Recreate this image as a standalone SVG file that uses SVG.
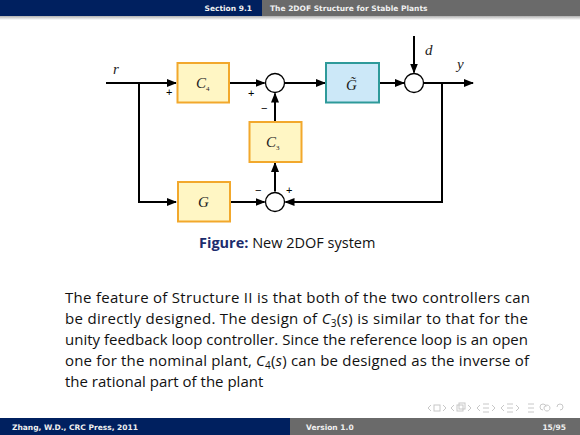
<svg xmlns="http://www.w3.org/2000/svg" width="580" height="435" viewBox="0 0 580 435">
<defs>
<marker id="ah" markerWidth="10" markerHeight="8" refX="9" refY="4" orient="auto" markerUnits="userSpaceOnUse">
<path d="M0,0 L10,4 L0,8 Z" fill="#000"/>
</marker>
<linearGradient id="sh" x1="0" y1="0" x2="0" y2="1">
<stop offset="0" stop-color="#b0b0b0"/>
<stop offset="1" stop-color="#ffffff"/>
</linearGradient>
</defs>
<style>
.bar{font-family:"DejaVu Sans","Liberation Sans",sans-serif;font-size:7.5px;font-weight:bold;fill:#f0f0f0}
.ybox{fill:#FFF6C4;stroke:#F2A82C;stroke-width:2}
.bbox{fill:#CCE8F8;stroke:#2E9A9A;stroke-width:2}
.sum{fill:#fff;stroke:#000;stroke-width:1.3}
.ln{fill:none;stroke:#000;stroke-width:2}
.math{font-family:"Liberation Serif",serif;font-style:italic;font-size:15px;fill:#222}
.sub{font-family:"Liberation Serif",serif;font-size:7px;fill:#222}
.sign{font-family:"Liberation Sans",sans-serif;font-size:11px;fill:#000}
.body{font-family:"Open Sans","DejaVu Sans",sans-serif;font-size:15px;fill:#111}
.cap{font-family:"Open Sans","DejaVu Sans",sans-serif;font-size:14.5px;fill:#111}
.nav{fill:none;stroke:#c8c8c8;stroke-width:1}
</style>
<rect width="580" height="435" fill="#fff"/>
<!-- header -->
<rect x="0" y="0" width="262" height="16" fill="#00205F"/>
<rect x="262" y="0" width="318" height="16" fill="#6A6A6A"/>
<rect x="0" y="16" width="580" height="4" fill="url(#sh)"/>
<text class="bar" x="252" y="11" text-anchor="end" fill="#d8e0f0">Section 9.1</text>
<text class="bar" x="270" y="11">The 2DOF Structure for Stable Plants</text>

<!-- connectors -->
<g id="connectors">
<path class="ln" d="M106,83 H176" marker-end="url(#ah)"/>
<path class="ln" d="M139,83 V202 H176" marker-end="url(#ah)"/>
<path class="ln" d="M229,83 H264.5" marker-end="url(#ah)"/>
<path class="ln" d="M284.5,83 H325" marker-end="url(#ah)"/>
<path class="ln" d="M379,83 H404" marker-end="url(#ah)"/>
<path class="ln" d="M414,36 V72.5" marker-end="url(#ah)"/>
<path class="ln" d="M424,83 H473" marker-end="url(#ah)"/>
<path class="ln" d="M442,83 V202 H285.5" marker-end="url(#ah)"/>
<path class="ln" d="M230,202 H264.5" marker-end="url(#ah)"/>
<path class="ln" d="M275,191.5 V163" marker-end="url(#ah)"/>
<path class="ln" d="M275,122 V93.5" marker-end="url(#ah)"/>
</g>

<g id="C4"><rect class="ybox" x="177.5" y="63" width="51.5" height="39.5"/>
<text class="math" x="196" y="88">C<tspan class="sub" font-style="normal" dy="3">4</tspan></text></g>
<g id="Gt"><rect class="bbox" x="326" y="63" width="53" height="39.5"/>
<text class="math" x="346" y="90">G&#x303;</text></g>
<g id="C3"><rect class="ybox" x="249.5" y="122" width="52" height="40"/>
<text class="math" x="266" y="147">C<tspan class="sub" font-style="normal" dy="3">3</tspan></text></g>
<g id="G"><rect class="ybox" x="178" y="182" width="52" height="39.5"/>
<text class="math" x="198" y="207">G</text></g>
<g id="sum1"><circle class="sum" cx="275" cy="83" r="9.5"/></g>
<g id="sum2"><circle class="sum" cx="414" cy="83" r="9.5"/></g>
<g id="sum3"><circle class="sum" cx="275" cy="202" r="9.5"/></g>

<g id="labels">
<text class="math" x="113" y="74" font-size="13">r</text>
<text class="math" x="425" y="55" font-size="13">d</text>
<text class="math" x="457" y="69" font-size="13">y</text>
<text class="sign" x="166" y="96">+</text>
<text class="sign" x="248" y="97">+</text>
<text class="sign" x="261" y="112">−</text>
<text class="sign" x="255" y="194">−</text>
<text class="sign" x="286" y="194">+</text>
</g>

<!-- caption -->
<text class="cap" x="199" y="248"><tspan font-weight="bold" fill="#1C2C6C">Figure:</tspan> New 2DOF system</text>

<!-- body -->
<text class="body" x="65" y="303" textLength="465" lengthAdjust="spacing">The feature of Structure II is that both of the two controllers can</text>
<text class="body" x="65" y="324" textLength="463" lengthAdjust="spacing">be directly designed.  The design of <tspan font-style="italic">C</tspan><tspan font-size="10" dy="3">3</tspan><tspan dy="-3">(</tspan><tspan font-style="italic">s</tspan>) is similar to that for the</text>
<text class="body" x="65" y="345" textLength="463" lengthAdjust="spacing">unity feedback loop controller.  Since the reference loop is an open</text>
<text class="body" x="65" y="366" textLength="464" lengthAdjust="spacing">one for the nominal plant, <tspan font-style="italic">C</tspan><tspan font-size="10" dy="3">4</tspan><tspan dy="-3">(</tspan><tspan font-style="italic">s</tspan>) can be designed as the inverse of</text>
<text class="body" x="65" y="387">the rational part of the plant</text>

<!-- nav symbols -->
<g id="nav">
<path class="nav" d="M431,405 l-3,3 l3,3"/>
<rect class="nav" x="434" y="405" width="6" height="6"/>
<path class="nav" d="M443,405 l3,3 l-3,3"/>
<path class="nav" d="M454,405 l-3,3 l3,3"/>
<rect class="nav" x="457" y="405" width="6" height="6"/><rect class="nav" x="459" y="403" width="6" height="6"/>
<path class="nav" d="M468,405 l3,3 l-3,3"/>
<path class="nav" d="M480,405 l-3,3 l3,3"/>
<path class="nav" d="M483,404 h6 M483,408 h6 M483,412 h6"/>
<path class="nav" d="M492,405 l3,3 l-3,3"/>
<path class="nav" d="M504,405 l-3,3 l3,3"/>
<path class="nav" d="M507,404 h6 M507,408 h6 M507,412 h6"/>
<path class="nav" d="M516,405 l3,3 l-3,3"/>
<path class="nav" d="M528,404 h6 M528,408 h6 M528,412 h6"/>
<path class="nav" d="M543,410 a3,3 0 1 1 3,-3 M550,408 a3,3 0 1 0 0,0.1 M560,410 a3,3 0 1 0 -3,-3"/>
</g>

<!-- footer -->
<rect x="0" y="418" width="290" height="17" fill="#00205F"/>
<rect x="290" y="418" width="290" height="17" fill="#6A6A6A"/>
<text class="bar" x="12" y="429.5">Zhang, W.D., CRC Press, 2011</text>
<text class="bar" x="306" y="429.5">Version 1.0</text>
<text class="bar" x="566" y="429.5" text-anchor="end">15/95</text>
</svg>
